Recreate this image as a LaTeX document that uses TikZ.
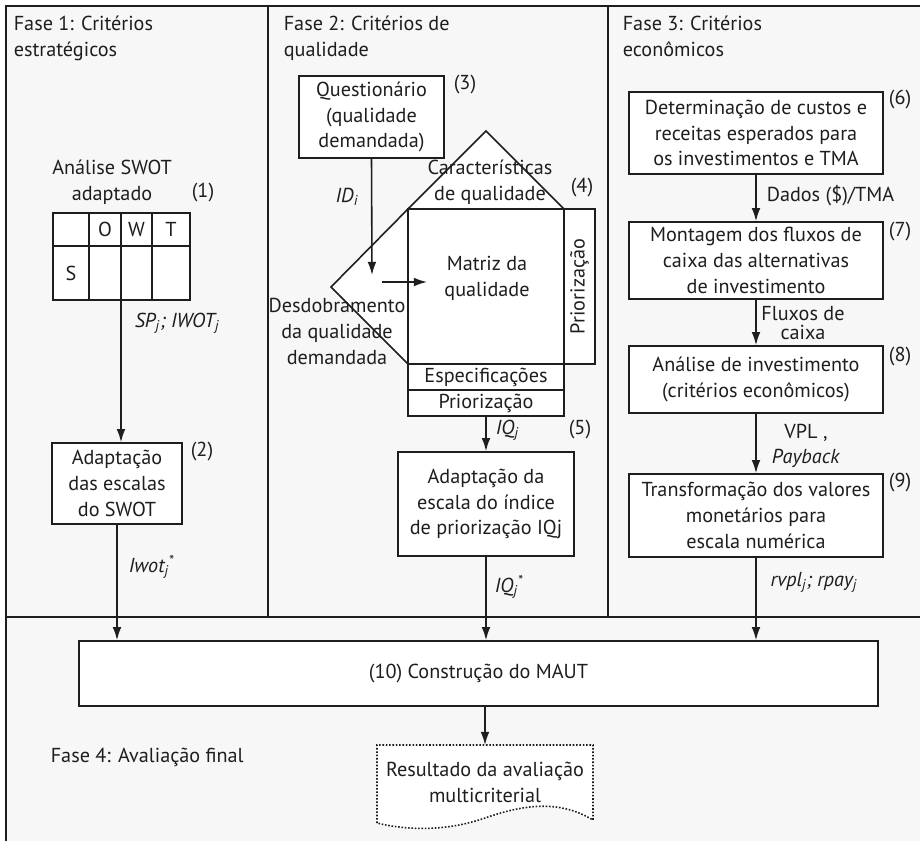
\documentclass[tikz,border=0pt]{standalone}
\usepackage{fontspec}
\setmainfont{PT Sans}
\usetikzlibrary{arrows.meta}
\definecolor{bgc}{HTML}{F7F7F7}
\definecolor{ln}{HTML}{1E1E1E}
\newcommand\fsz{\fontsize{11.5}{14.7}\selectfont}
\begin{document}
\begin{tikzpicture}[x=0.02cm,y=-0.02cm, line width=0.9pt, color=ln,
  every node/.style={font=\fsz},
  box/.style={draw, fill=white, align=center, inner sep=0pt},
  arr/.style={-{Latex[length=7.5pt,width=5pt]}},
  lbl/.style={align=center, inner sep=0pt},
  tag/.style={inner sep=0pt}]
\useasboundingbox (0,0) rectangle (920,841);
\fill[bgc] (6,6) rectangle (920,841);
% frame
\draw (6,841) -- (6,6) -- (920,6);
\draw (6,617) -- (920,617);
\draw (268,6) -- (268,617);
\draw (608,6) -- (608,617);
% phase titles
\node[anchor=north west, align=left, inner sep=0pt] (f1) at (13,15) {Fase 1: Critérios\\estratégicos};
\node[anchor=north west, align=left, inner sep=0pt] (f2) at (283,15) {Fase 2: Critérios de\\qualidade};
\node[anchor=north west, align=left, inner sep=0pt] (f3) at (622,15) {Fase 3: Critérios\\econômicos};
\node[anchor=west, inner sep=0pt] (f4) at (50,757) {Fase 4: Avaliação final};
% ---------- Fase 1 ----------
\node[lbl] (swt) at (112,182) {Análise SWOT\\adaptado};
\node[tag] (n1) at (203,193) {(1)};
\node[box, minimum width=2.74cm, minimum height=1.74cm] (swot) at (121.5,256.5) {};
\draw (53,246) -- (190,246);
\draw (89,213) -- (89,300);
\draw (121,213) -- (121,300);
\draw (152,213) -- (152,300);
\node (so) at (105,229.5) {O};
\node (sw) at (136.5,229.5) {W};
\node (st) at (171,229.5) {T};
\node (ss) at (71,273) {S};
\node[box, minimum width=2.6cm, minimum height=1.62cm] (a2) at (117,483.5) {Adaptação\\das escalas\\do SWOT};
\node[tag] (n2) at (202,452) {(2)};
\coordinate (swout) at (121,300);
\draw[arr] (swout) -- (swout |- a2.north);
\node[anchor=west, inner sep=0pt] (l1) at (134,323) {\textit{SP\textsubscript{j}; IWOT\textsubscript{j}}};
\node[anchor=west, inner sep=0pt] (l2) at (128,567) {\textit{Iwot\textsubscript{j}\textsuperscript{*}}};
% ---------- Fase 2 ----------
\filldraw[fill=white] (486,131) -- (564,209) -- (408,209) -- cycle;
\filldraw[fill=white] (408,209) -- (331,287) -- (408,364) -- cycle;
\node[box, minimum width=3.12cm, minimum height=3.1cm] (mq) at (486,286.5) {};
\node[box, minimum width=0.62cm, minimum height=3.1cm] (pcol) at (579.5,286.5) {};
\node[rotate=90, inner sep=0pt] (pcolt) at (pcol.center) {Priorização};
\node[box, minimum width=3.12cm, minimum height=0.52cm] (esp) at (486,377) {Especificações};
\node[box, minimum width=3.12cm, minimum height=0.52cm] (pri) at (486,403) {Priorização};
\node[lbl] (mqt) at (487,278) {Matriz da\\qualidade};
\node[lbl] (car) at (490,182.5) {Características\\de qualidade};
\node[tag] (n4) at (582,188) {(4)};
\node[lbl] (des) at (337,331.5) {Desdobramento\\da qualidade\\demandada};
\node[box, minimum width=2.9cm, minimum height=1.64cm] (q3) at (371.5,117) {Questionário\\(qualidade\\demandada)};
\node[tag] (n3) at (465,85) {(3)};
\coordinate (qend) at (372,275);
\draw[arr] (q3.south) -- (qend);
\node[tag] (l3) at (347,197) {\textit{ID\textsubscript{i}}};
\coordinate (hs) at (382,282);
\coordinate (he) at (427,282);
\draw[arr] (hs) -- (he);
\node[box, minimum width=3.52cm, minimum height=2.08cm] (a5) at (486,504) {Adaptação da\\escala do índice\\de priorização IQj};
\draw[arr] (pri.south) -- (a5.north);
\node[anchor=west, inner sep=0pt] (l4) at (495,430) {\textit{IQ\textsubscript{j}}};
\node[tag] (n5) at (580,430) {(5)};
\node[anchor=west, inner sep=0pt] (l5) at (494,587) {\textit{IQ\textsubscript{j}\textsuperscript{*}}};
% ---------- Fase 3 ----------
\node[box, minimum width=5.08cm, minimum height=1.64cm] (b6) at (756,133) {Determinação de custos e\\receitas esperados para\\os investimentos e TMA};
\node[box, minimum width=5.08cm, minimum height=1.54cm] (b7) at (756,260.5) {Montagem dos fluxos de\\caixa das alternativas\\de investimento};
\node[box, minimum width=5.08cm, minimum height=1.34cm] (b8) at (756,379.5) {Análise de investimento\\(critérios econômicos)};
\node[box, minimum width=5.08cm, minimum height=1.66cm] (b9) at (756,515.5) {Transformação dos valores\\monetários para\\escala numérica};
\node[tag] (n6) at (900,100) {(6)};
\node[tag] (n7) at (900,232) {(7)};
\node[tag] (n8) at (900,357) {(8)};
\node[tag] (n9) at (900,483) {(9)};
\draw[arr] (b6.south) -- (b7.north);
\draw[arr] (b7.south) -- (b8.north);
\draw[arr] (b8.south) -- (b9.north);
\node[anchor=west, inner sep=0pt] (l6) at (766,196) {Dados (\$)/TMA};
\node[lbl, font=\fontsize{11.5}{10.5}\selectfont] (l7) at (803,323) {Fluxos de\\caixa};
\node[lbl] (l8) at (806,446) {VPL ,\\\textit{Payback}};
\node[tag] (l9) at (814,582) {\textit{rvpl\textsubscript{j}; rpay\textsubscript{j}}};
% ---------- Fase 4 ----------
\node[box, minimum width=15.98cm, minimum height=1.3cm] (maut) at (478.5,673.5) {(10) Construção do MAUT};
\draw[arr] (a2.south) -- (a2.south |- maut.north);
\draw[arr] (a5.south) -- (a5.south |- maut.north);
\draw[arr] (b9.south) -- (b9.south |- maut.north);
\filldraw[fill=white, densely dotted] (377,823) -- (377,745) -- (593,745) -- (593,820)
  .. controls (560,800) and (525,804) .. (485,818)
  .. controls (445,832) and (405,830) .. (377,823) -- cycle;
\node[lbl, minimum width=4.32cm, minimum height=1.56cm] (doc) at (485,782) {Resultado da avaliação\\multicriterial};
\draw[arr] (doc.north |- maut.south) -- (doc.north |- 0,745);
\end{tikzpicture}
\end{document}
